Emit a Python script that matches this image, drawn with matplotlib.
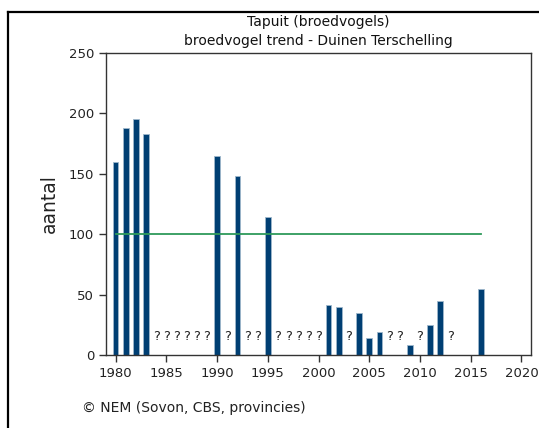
import numpy as np
from matplotlib import pyplot as plt
from matplotlib.lines import Line2D

# data
years = [1980, 1981, 1982, 1983, 1990, 1992, 1995, 2001, 2002, 2004, 2005, 2006, 2009, 2011, 2012, 2016]
counts = [160, 188, 195, 183, 165, 148, 114, 41, 40, 35, 14, 19, 8, 25, 45, 55]
unknown_years = [1984, 1985, 1986, 1987, 1988, 1989, 1991, 1993, 1994,
                 1996, 1997, 1998, 1999, 2000, 2003, 2007, 2008, 2010, 2013]
ref_years = [1980, 2016]
ref_value = [100, 100]
xticks = [1980, 1985, 1990, 1995, 2000, 2005, 2010, 2015, 2020]
yticks = [0, 50, 100, 150, 200, 250]

plt.rcParams['font.family'] = ['DejaVu Sans']
fig = plt.figure(figsize=(5.39, 4.28), dpi=100)
ax = fig.add_axes([0.1967, 0.1706, 0.7885, 0.7056])

ax.bar(years, counts, width=0.55, color='#003f73', edgecolor='#9fb8cc', linewidth=0.6, zorder=2)
ax.plot(ref_years, ref_value, color='#2e9a5a', linewidth=1.3, zorder=3)
for y in unknown_years:
    ax.text(y, 15, '?', ha='center', va='center', fontsize=9.5, color='#222222')

ax.set_xlim(1979.05, 2020.95)
ax.set_ylim(0, 250)
ax.set_xticks(xticks)
ax.set_yticks(yticks)
ax.tick_params(direction='out', length=5, width=1, colors='#333333', labelsize=9.5, labelcolor='#222222')
for s in ax.spines.values():
    s.set_color('#333333')
    s.set_linewidth(1)
ax.set_ylabel('aantal', fontsize=13.5, color='#222222')
ax.yaxis.set_label_coords(-0.133, 0.5)
ax.yaxis.label.set_va('center')

fig.text(0.59, 0.948, 'Tapuit (broedvogels)', ha='center', va='center', fontsize=10, color='#111111')
fig.text(0.59, 0.904, 'broedvogel trend - Duinen Terschelling', ha='center', va='center', fontsize=10, color='#111111')
fig.text(0.152, 0.046, '\u00a9 NEM (Sovon, CBS, provincies)', ha='left', va='center', fontsize=10, color='#222222')

# outer frame
fig.add_artist(Line2D([7.5/539, 7.5/539], [0, 1 - 12/428], color='black', linewidth=1.6, transform=fig.transFigure))
fig.add_artist(Line2D([7.5/539, 1], [1 - 12/428, 1 - 12/428], color='black', linewidth=1.6, transform=fig.transFigure))

fig.savefig('out.png', dpi=100)
